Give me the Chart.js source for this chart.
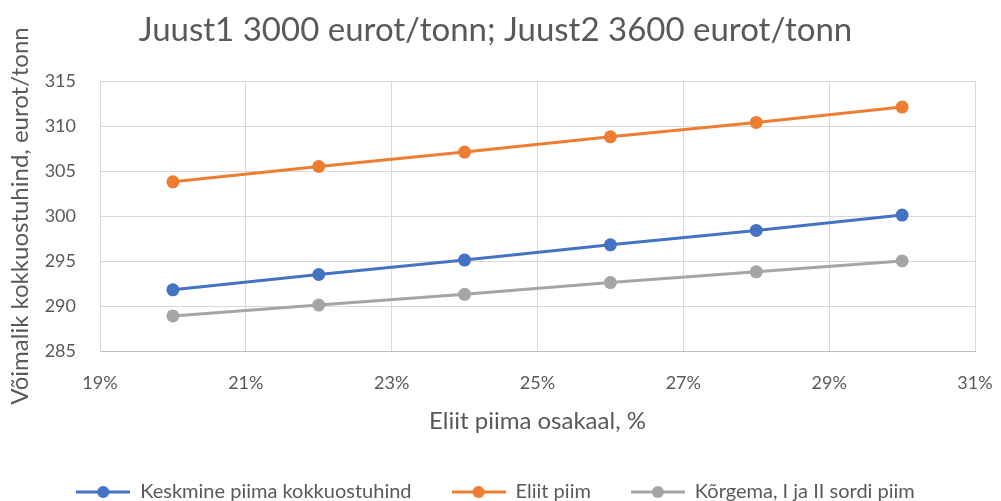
<!DOCTYPE html>
<html>
<head>
<meta charset="utf-8">
<script src="https://cdn.jsdelivr.net/npm/chart.js@4"></script>
<style>
  html, body { margin: 0; padding: 0; background: #fff; }
  #wrap { width: 1001px; height: 501px; }
</style>
</head>
<body>
<div id="wrap"><canvas id="chart" width="1001" height="501"></canvas></div>
<script>
// Eliit piima osakaal (%) and the three price series
const shares = [20, 22, 24, 26, 28, 30];
const keskmine = [291.8, 293.5, 295.1, 296.8, 298.4, 300.1];
const eliit = [303.8, 305.5, 307.1, 308.8, 310.4, 312.1];
const korgema = [288.9, 290.1, 291.3, 292.6, 293.8, 295.0];

const xTicks = [19, 21, 23, 25, 27, 29, 31];
const yTicks = [285, 290, 295, 300, 305, 310, 315];

const seriesNames = ['Keskmine piima kokkuostuhind', 'Eliit piim', 'Kõrgema, I ja II sordi piim'];
const colors = ['#4472C4', '#ED7D31', '#A5A5A5'];

const FONT = 'Lato, "Open Sans", sans-serif';
const TEXT = '#595959';

// line + marker icon for the legend
function legendIcon(color) {
    const c = document.createElement('canvas');
    c.width = 54;
    c.height = 14;
    const g = c.getContext('2d');
    g.strokeStyle = color;
    g.lineWidth = 3;
    g.beginPath();
    g.moveTo(0, 7);
    g.lineTo(54, 7);
    g.stroke();
    g.fillStyle = color;
    g.beginPath();
    g.arc(27, 7, 6, 0, Math.PI * 2);
    g.fill();
    return c;
}
const icons = colors.map(legendIcon);

function series(values, i) {
    return {
        label: seriesNames[i],
        data: shares.map((x, k) => ({ x: x, y: values[k] })),
        borderColor: colors[i],
        backgroundColor: colors[i],
        borderWidth: 3,
        pointRadius: 6.5,
        pointHoverRadius: 6.5,
        pointBorderWidth: 0,
        tension: 0
    };
}

new Chart(document.getElementById('chart'), {
    type: 'line',
    data: {
        datasets: [series(keskmine, 0), series(eliit, 1), series(korgema, 2)]
    },
    options: {
        responsive: false,
        animation: false,
        layout: { padding: { left: 0, right: 10, top: 0, bottom: -11 } },
        plugins: {
            title: {
                display: true,
                text: 'Juust1 3000 eurot/tonn; Juust2 3600 eurot/tonn',
                color: TEXT,
                font: { family: FONT, size: 33, weight: 'normal' },
                padding: { top: 11, bottom: 30.4 }
            },
            legend: {
                position: 'bottom',
                labels: {
                    color: TEXT,
                    font: { family: FONT, size: 20 },
                    usePointStyle: true,
                    pointStyleWidth: 54,
                    padding: 40,
                    generateLabels(chart) {
                        return chart.data.datasets.map((ds, i) => ({
                            text: ds.label,
                            fillStyle: colors[i],
                            strokeStyle: colors[i],
                            pointStyle: icons[i],
                            lineWidth: 0,
                            fontColor: TEXT,
                            hidden: false,
                            datasetIndex: i
                        }));
                    }
                }
            },
            tooltip: { enabled: false }
        },
        scales: {
            x: {
                type: 'linear',
                min: 19,
                max: 31,
                afterBuildTicks(scale) {
                    scale.ticks = xTicks.map(v => ({ value: v }));
                },
                afterFit(scale) {
                    scale.paddingLeft = 0;
                    scale.paddingRight = 26;
                },
                grid: { color: '#d9d9d9', lineWidth: 1, drawTicks: false },
                border: { color: '#bfbfbf', width: 1 },
                ticks: {
                    color: TEXT,
                    font: { family: FONT, size: 18 },
                    padding: 21,
                    maxRotation: 0,
                    callback: v => v + '%'
                },
                title: {
                    display: true,
                    text: 'Eliit piima osakaal, %',
                    color: TEXT,
                    font: { family: FONT, size: 24 },
                    padding: { top: -8, bottom: 6.6 }
                }
            },
            y: {
                min: 285,
                max: 315,
                afterBuildTicks(scale) {
                    scale.ticks = yTicks.map(v => ({ value: v }));
                },
                afterFit(scale) {
                    scale.width = 100;
                },
                grid: { color: '#d9d9d9', lineWidth: 1, drawTicks: false },
                border: { color: '#d9d9d9', width: 1 },
                ticks: {
                    color: TEXT,
                    font: { family: FONT, size: 18 },
                    padding: 24
                },
                title: {
                    display: true,
                    text: 'Võimalik kokkuostuhind, eurot/tonn',
                    color: TEXT,
                    font: { family: FONT, size: 24 },
                    padding: { top: 6, bottom: 0 }
                }
            }
        }
    }
});
</script>
</body>
</html>
